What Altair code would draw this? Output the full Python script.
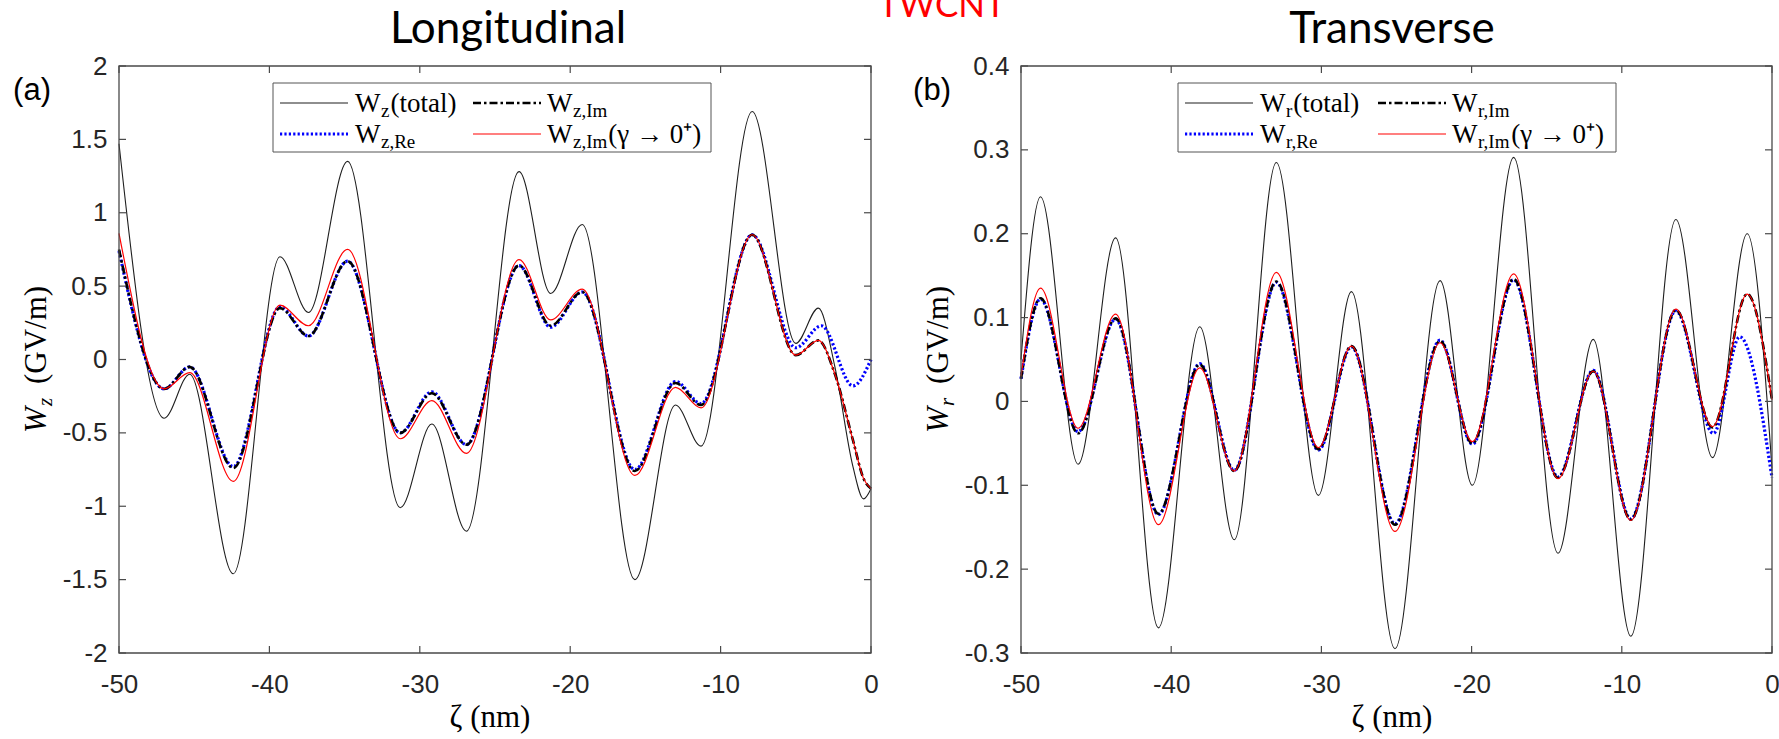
import altair as alt
import pandas as pd

# ---------------- data ----------------
zeta_ticks = [-50, -40, -30, -20, -10, 0]
wz_ticks = [-2, -1.5, -1, -0.5, 0, 0.5, 1, 1.5, 2]
wr_ticks = [-0.3, -0.2, -0.1, 0, 0.1, 0.2, 0.3, 0.4]

# Longitudinal wakefield W_z (GV/m)
zeta_z = [-50, -47.0, -45.3, -42.4, -39.3, -37.4, -34.8, -31.3, -29.2, -26.9, -23.4,
          -21.3, -19.2, -15.7, -13.0, -11.3, -7.9, -5.0, -3.5, -2.4, -1.2, -0.5, 0]
wz_total = [1.47, -0.40, -0.10, -1.46, 0.70, 0.32, 1.35, -1.01, -0.44, -1.17, 1.28,
            0.45, 0.92, -1.50, -0.31, -0.59, 1.69, 0.11, 0.35, -0.05, -0.73, -0.95, -0.88]
wz_im = [0.75, -0.20, -0.05, -0.74, 0.35, 0.16, 0.67, -0.50, -0.23, -0.58, 0.64,
         0.23, 0.46, -0.76, -0.16, -0.31, 0.85, 0.03, 0.13, -0.10, -0.55, -0.81, -0.88]
wz_im_g0 = [0.86, -0.20, -0.09, -0.83, 0.37, 0.23, 0.75, -0.54, -0.28, -0.64, 0.68,
            0.27, 0.48, -0.79, -0.19, -0.33, 0.85, 0.03, 0.13, -0.10, -0.55, -0.81, -0.88]
zeta_z_re = [-50, -47.0, -45.3, -42.4, -39.3, -37.4, -34.8, -31.3, -29.2, -26.9, -23.4,
             -21.3, -19.2, -15.7, -13.0, -11.3, -7.9, -5.0, -3.3, -1.2, 0]
wz_re = [0.74, -0.20, -0.05, -0.73, 0.36, 0.16, 0.67, -0.50, -0.22, -0.58, 0.64,
         0.22, 0.46, -0.75, -0.15, -0.30, 0.85, 0.08, 0.23, -0.18, 0.0]

# Transverse wakefield W_r (GV/m)
zeta_r = [-50, -48.7, -46.2, -43.7, -40.85, -38.1, -35.8, -33.0, -30.2, -28.0, -25.1,
          -22.1, -19.95, -17.2, -14.25, -11.9, -9.4, -6.4, -3.96, -1.65, 0]
wr_total = [0.05, 0.244, -0.075, 0.195, -0.270, 0.089, -0.165, 0.285, -0.112, 0.131, -0.295,
            0.144, -0.100, 0.291, -0.181, 0.074, -0.280, 0.217, -0.067, 0.200, -0.08]
wr_im = [0.027, 0.123, -0.038, 0.099, -0.134, 0.044, -0.083, 0.143, -0.057, 0.066, -0.147,
         0.072, -0.050, 0.146, -0.091, 0.036, -0.141, 0.109, -0.031, 0.128, 0.002]
wr_im_g0 = [0.030, 0.135, -0.032, 0.104, -0.147, 0.040, -0.083, 0.154, -0.055, 0.066, -0.155,
            0.070, -0.048, 0.152, -0.092, 0.036, -0.142, 0.110, -0.030, 0.128, 0.002]
zeta_r_re = [-50, -48.7, -46.2, -43.7, -40.85, -38.1, -35.8, -33.0, -30.2, -28.0, -25.1,
             -22.1, -19.95, -17.2, -14.25, -11.9, -9.4, -6.4, -3.9, -2.15, 0]
wr_re = [0.027, 0.122, -0.036, 0.098, -0.135, 0.045, -0.082, 0.142, -0.058, 0.065, -0.146,
         0.073, -0.051, 0.145, -0.090, 0.037, -0.140, 0.108, -0.038, 0.077, -0.091]

# ---------------- layout ----------------
W, H = 1779, 739
Y_TOP, Y_BOT = 66, 653
AX = "#4a4a4a"
LBL = "#262626"
SERIF = "Liberation Serif"
SANS = "Liberation Sans"

STY = {
    "total": dict(color="#1e1e1e", strokeWidth=1.1),
    "re": dict(color="#0000ff", strokeWidth=3.2, strokeDash=[2.2, 2.2]),
    "im": dict(color="#000000", strokeWidth=2.6, strokeDash=[8, 3, 2.5, 3]),
    "g0": dict(color="#ff0000", strokeWidth=1.2),
}

ONE = pd.DataFrame({"k": [0]})


def txt(s, x, y, size, font=SERIF, color="#000000", align="left",
        baseline="alphabetic", angle=0, style="normal"):
    return alt.Chart(ONE).mark_text(
        text=s, font=font, fontSize=size, color=color, align=align,
        baseline=baseline, angle=angle, fontStyle=style
    ).encode(x=alt.value(x), y=alt.value(y))


def panel(x0, x1, yticks, series):
    xs = alt.Scale(domain=[zeta_ticks[0], zeta_ticks[-1]], range=[x0, x1], nice=False, zero=False)
    ys = alt.Scale(domain=[yticks[0], yticks[-1]], range=[Y_BOT, Y_TOP], nice=False, zero=False)
    ax_x = alt.Axis(orient="bottom", offset=Y_BOT - H, values=zeta_ticks, labelExpr="datum.value + ''",
                    domain=False, ticks=False, tickSize=0, grid=False, labelPadding=18,
                    labelFont=SANS, labelFontSize=26, labelColor=LBL, labelFlush=False,
                    labelOverlap=False, title=None)
    ax_y = alt.Axis(orient="left", offset=-x0, values=yticks, labelExpr="datum.value + ''",
                    domain=False, ticks=False, tickSize=0, grid=False, labelPadding=12,
                    labelFont=SANS, labelFontSize=26, labelColor=LBL, labelFlush=False,
                    labelOverlap=False, title=None)
    layers = []
    for key, zs, vs in series:
        df = pd.DataFrame({"zeta": zs, "w": vs})
        layers.append(
            alt.Chart(df).mark_line(interpolate="monotone", **STY[key]).encode(
                x=alt.X("zeta:Q", scale=xs, axis=ax_x),
                y=alt.Y("w:Q", scale=ys, axis=ax_y),
            )
        )
    lim = pd.DataFrame({"x0": [zeta_ticks[0]], "x1": [zeta_ticks[-1]],
                        "y0": [yticks[0]], "y1": [yticks[-1]]})
    layers.append(
        alt.Chart(lim).mark_rect(filled=False, stroke=AX, strokeWidth=1.3).encode(
            x=alt.X("x0:Q", scale=xs, axis=ax_x), x2="x1:Q",
            y=alt.Y("y0:Q", scale=ys, axis=ax_y), y2="y1:Q",
        )
    )
    xt = pd.DataFrame({"v": zeta_ticks, "lo": yticks[0], "hi": yticks[-1]})
    yt = pd.DataFrame({"v": yticks, "lo": zeta_ticks[0], "hi": zeta_ticks[-1]})
    for fld, off in (("lo", -7), ("hi", 7)):
        layers.append(
            alt.Chart(xt).mark_rule(color=AX, strokeWidth=1.2, y2Offset=off).encode(
                x=alt.X("v:Q", scale=xs, axis=ax_x),
                y=alt.Y(f"{fld}:Q", scale=ys, axis=ax_y), y2=f"{fld}:Q",
            )
        )
    for fld, off in (("lo", 7), ("hi", -7)):
        layers.append(
            alt.Chart(yt).mark_rule(color=AX, strokeWidth=1.2, x2Offset=off).encode(
                x=alt.X(f"{fld}:Q", scale=xs, axis=ax_x), x2=f"{fld}:Q",
                y=alt.Y("v:Q", scale=ys, axis=ax_y),
            )
        )
    return alt.layer(*layers)


left = panel(119, 871, wz_ticks, [
    ("total", zeta_z, wz_total),
    ("re", zeta_z_re, wz_re),
    ("im", zeta_z, wz_im),
    ("g0", zeta_z, wz_im_g0),
])
right = panel(1021, 1772, wr_ticks, [
    ("total", zeta_r, wr_total),
    ("re", zeta_r_re, wr_re),
    ("im", zeta_r, wr_im),
    ("g0", zeta_r, wr_im_g0),
])

# ---------------- annotations ----------------
TW = {"W": .944, "z": .444, "r": .333, ",": .25, "I": .333, "m": .778, "R": .667, "e": .444}
FS, SFS = 27, 19


def tw(s, size):
    return sum(TW.get(c, .5) for c in s) * size


def legend(bx, c):
    out = []
    y0, y1 = 83, 152
    out.append(alt.Chart(ONE).mark_rect(fill="white", stroke="#555555", strokeWidth=1).encode(
        x=alt.value(bx), x2=alt.value(bx + 438), y=alt.value(y0), y2=alt.value(y1)))
    entries = [("total", 0, 103, 112, c, "(total)"),
               ("im", 1, 103, 112, c + ",Im", ""),
               ("re", 0, 134, 143, c + ",Re", ""),
               ("g0", 1, 134, 143, c + ",Im", "(\u03b3 \u2192 0\u207a)")]
    for key, col, ly, base, sub, rest in entries:
        sx0 = bx + (7 if col == 0 else 200)
        out.append(alt.Chart(ONE).mark_rule(**STY[key]).encode(
            x=alt.value(sx0), x2=alt.value(sx0 + 68), y=alt.value(ly)))
        tx = bx + (82 if col == 0 else 274)
        out.append(txt("W", tx, base, FS))
        sx = tx + tw("W", FS) + 0.5
        out.append(txt(sub, sx, base + 5, SFS))
        if rest:
            out.append(txt(rest, sx + tw(sub, SFS) + 1, base, FS))
    return out


def ytitle(xb, c):
    return [
        txt("W", xb, 433, 31, angle=270, style="italic"),
        txt(c, xb + 6, 433 - 27, 21, angle=270, style="italic"),
        txt("(GV/m)", xb, 384, 31, angle=270),
    ]


ann = [
    txt("Longitudinal", 508, 43, 44, font="Lato", align="center"),
    txt("Transverse", 1392, 43, 44, font="Lato", align="center"),
    txt("TWCNT", 942, 17, 35, font="Lato", color="#ff0000", align="center"),
    txt("(a)", 32, 100, 31, font=SANS, align="center"),
    txt("(b)", 932, 100, 31, font=SANS, align="center"),
    txt("\u03b6 (nm)", 490, 727, 31, align="center"),
    txt("\u03b6 (nm)", 1392, 727, 31, align="center"),
]
ann += ytitle(46, "z") + ytitle(948, "r")
ann += legend(273, "z") + legend(1178, "r")

chart = alt.layer(left, right, *ann).resolve_scale(
    x="independent", y="independent"
).properties(
    width=W, height=H, padding=0, background="white",
    autosize=alt.AutoSizeParams(type="none"),
).configure_view(strokeWidth=0)

chart.save("out.html", embed_options={"renderer": "svg", "actions": False})
